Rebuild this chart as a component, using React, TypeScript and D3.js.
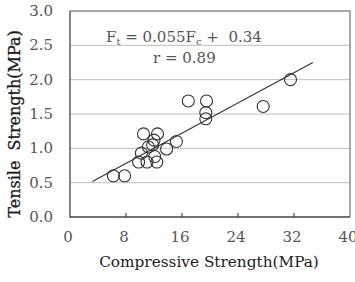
import { useEffect, useRef } from "react";
import * as d3 from "d3";

// compressive strength (MPa) and tensile strength (MPa) per specimen
const compressive = [6.2, 7.8, 9.8, 10.2, 10.5, 11.0, 11.2, 11.8, 12.1, 12.4, 12.5, 12.0, 13.8, 15.2, 16.9, 19.5, 19.4, 19.4, 27.6, 31.5];
const tensile = [0.6, 0.6, 0.8, 0.93, 1.21, 0.8, 1.02, 1.05, 0.88, 0.8, 1.21, 1.12, 0.99, 1.1, 1.69, 1.69, 1.52, 1.43, 1.61, 2.0];

const xTicks = [0, 8, 16, 24, 32, 40];
const yTicks = [0, 0.5, 1.0, 1.5, 2.0, 2.5, 3.0];

// regression Ft = 0.055 Fc + 0.34
const slope = 0.055;
const intercept = 0.34;
const fitRange = [3.2, 34.7];

const W = 355;
const H = 282;
const SERIF = "'DejaVu Serif', 'Liberation Serif', serif";

export default function App() {
  const ref = useRef<SVGSVGElement>(null);

  useEffect(() => {
    if (!ref.current) return;
    const svg = d3.select(ref.current);
    svg.selectAll("*").remove();

    const left = 70, right = 350, top = 11, bottom = 217;
    const x = d3.scaleLinear().domain([0, 40]).range([left, right]);
    const y = d3.scaleLinear().domain([0, 3]).range([bottom, top]);

    // grid lines
    svg.append("g")
      .selectAll("line")
      .data(yTicks.filter((t) => t > 0 && t < 3))
      .join("line")
      .attr("x1", left).attr("x2", right)
      .attr("y1", (d) => y(d)).attr("y2", (d) => y(d))
      .attr("stroke", "#bdbdbd").attr("stroke-width", 1);

    // frame top/right
    svg.append("path")
      .attr("d", `M${left},${top}H${right}V${bottom}`)
      .attr("fill", "none").attr("stroke", "#8a8a8a").attr("stroke-width", 1.5);

    // axes
    svg.append("path")
      .attr("d", `M${left},${top}V${bottom}H${right}`)
      .attr("fill", "none").attr("stroke", "#444").attr("stroke-width", 1.3);

    // x ticks (inside)
    svg.append("g")
      .selectAll("line")
      .data(xTicks.filter((t) => t > 0 && t < 40))
      .join("line")
      .attr("x1", (d) => x(d)).attr("x2", (d) => x(d))
      .attr("y1", bottom).attr("y2", bottom - 4)
      .attr("stroke", "#444").attr("stroke-width", 1.2);

    // tick labels
    svg.append("g")
      .selectAll("text")
      .data(xTicks)
      .join("text")
      .attr("x", (d) => x(d) - 2)
      .attr("y", 242)
      .attr("text-anchor", "middle")
      .attr("font-family", SERIF).attr("font-size", 15).attr("fill", "#555")
      .text((d) => String(d));

    svg.append("g")
      .selectAll("text")
      .data(yTicks)
      .join("text")
      .attr("x", 53)
      .attr("y", (d) => y(d) + 5)
      .attr("text-anchor", "end")
      .attr("font-family", SERIF).attr("font-size", 15).attr("fill", "#555")
      .text((d) => d.toFixed(1));

    // axis titles
    svg.append("text")
      .attr("x", 209).attr("y", 267)
      .attr("text-anchor", "middle")
      .attr("font-family", SERIF).attr("font-size", 15.3).attr("fill", "#222")
      .text("Compressive Strength(MPa)");

    svg.append("text")
      .attr("transform", `translate(20,${(top + bottom) / 2 + 10}) rotate(-90)`)
      .attr("text-anchor", "middle")
      .attr("font-family", SERIF).attr("font-size", 16).attr("fill", "#1a1a1a")
      .attr("stroke", "#1a1a1a").attr("stroke-width", 0.3)
      .attr("xml:space", "preserve")
      .text("Tensile  Strength(MPa)");

    // regression line
    svg.append("line")
      .attr("x1", x(fitRange[0])).attr("y1", y(slope * fitRange[0] + intercept))
      .attr("x2", x(fitRange[1])).attr("y2", y(slope * fitRange[1] + intercept))
      .attr("stroke", "#333").attr("stroke-width", 1.1);

    // points
    svg.append("g")
      .selectAll("circle")
      .data(compressive.map((c, i) => [c, tensile[i]]))
      .join("circle")
      .attr("cx", (d) => x(d[0])).attr("cy", (d) => y(d[1]))
      .attr("r", 6)
      .attr("fill", "none").attr("stroke", "#333").attr("stroke-width", 1.1);

    // equation
    const eq = svg.append("text")
      .attr("x", 106).attr("y", 42)
      .attr("font-family", SERIF).attr("font-size", 15).attr("fill", "#555")
      .attr("xml:space", "preserve");
    eq.append("tspan").text("F");
    eq.append("tspan").attr("font-size", 10).attr("dy", 3).text("t");
    eq.append("tspan").attr("dy", -3).text(" = 0.055F");
    eq.append("tspan").attr("font-size", 10).attr("dy", 3).text("c");
    eq.append("tspan").attr("dy", -3).text(" +  0.34");

    svg.append("text")
      .attr("x", 153).attr("y", 63)
      .attr("font-family", SERIF).attr("font-size", 15).attr("fill", "#555")
      .text("r = 0.89");
  }, []);

  return (
    <svg
      ref={ref}
      width={W}
      height={H}
      style={{ position: "absolute", left: 0, top: 0, background: "#fff" }}
    />
  );
}
